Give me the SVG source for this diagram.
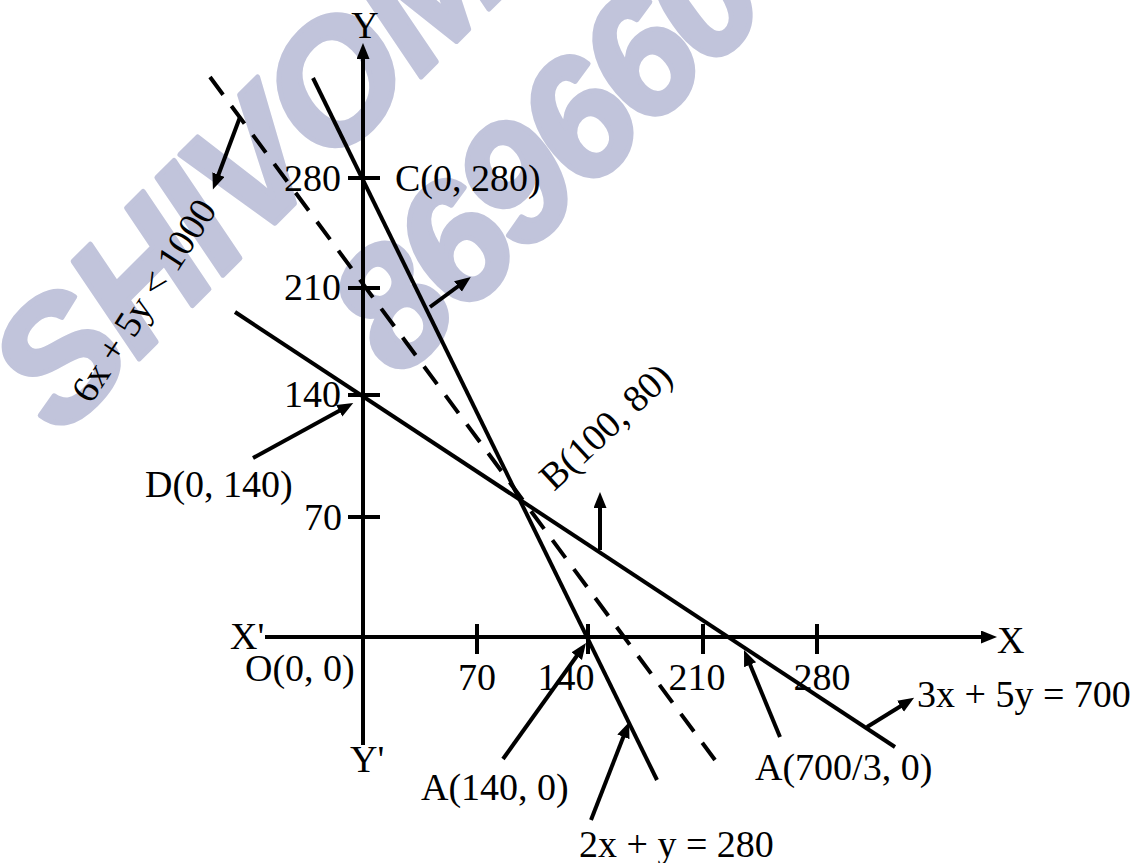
<svg xmlns="http://www.w3.org/2000/svg" width="1139" height="863" viewBox="0 0 1139 863">
  <style>
    .wm { font-family: "Liberation Sans", Arial, sans-serif; font-weight: bold; font-style: italic; font-size: 168px; fill: #c1c4db; stroke: #c1c4db; stroke-width: 5; stroke-linejoin: round; }
    .t { font-family: "Liberation Serif", "Times New Roman", serif; font-size: 38px; fill: #000; }
    .ln { stroke: #000; stroke-width: 4; fill: none; stroke-linecap: butt; }
    .dash { stroke-dasharray: 22 14; }
    .ar { stroke: #000; stroke-width: 4; fill: none; marker-end: url(#ah); }
  </style>
  <defs>
    <marker id="ah" markerUnits="userSpaceOnUse" markerWidth="18" markerHeight="14" refX="10" refY="6.5" orient="auto">
      <path d="M0,0 L16,6.5 L0,13 Z" fill="#000"/>
    </marker>
  </defs>
  <rect width="1139" height="863" fill="#fff"/>

  <g id="watermark">
    <text class="wm" letter-spacing="-3" transform="translate(60,438) rotate(-45)">SHIVOM</text>
    <text class="wm" letter-spacing="-6" transform="translate(400,380) rotate(-45)">869660</text>
  </g>

  <g id="axes">
    <line class="ln" x1="363" y1="745" x2="363" y2="49" marker-end="url(#ah)"/>
    <line class="ln" x1="265" y1="637" x2="991" y2="637" marker-end="url(#ah)"/>
    <g id="yticks">
      <line class="ln" x1="348" y1="178" x2="380" y2="178"/>
      <line class="ln" x1="348" y1="288" x2="380" y2="288"/>
      <line class="ln" x1="348" y1="395" x2="380" y2="395"/>
      <line class="ln" x1="348" y1="517" x2="380" y2="517"/>
    </g>
    <g id="xticks">
      <line class="ln" x1="477" y1="624" x2="477" y2="654"/>
      <line class="ln" x1="588" y1="624" x2="588" y2="654"/>
      <line class="ln" x1="703" y1="624" x2="703" y2="654"/>
      <line class="ln" x1="817" y1="624" x2="817" y2="654"/>
    </g>
  </g>

  <g id="connectors">
    <line id="line-2x-y" class="ln" x1="313" y1="78" x2="657" y2="780"/>
    <line id="line-3x-5y" class="ln" x1="235" y1="312" x2="895" y2="747"/>
    <line id="line-6x-5y" class="ln dash" x1="210" y1="77" x2="715" y2="760"/>
    <line class="ar" x1="240" y1="117" x2="215" y2="184"/>
    <line class="ar" x1="430" y1="307" x2="466" y2="280.5"/>
    <line class="ar" x1="253" y1="458" x2="348" y2="406"/>
    <line class="ar" x1="600" y1="550" x2="600" y2="498"/>
    <line class="ar" x1="503" y1="759" x2="582.5" y2="648"/>
    <line class="ar" x1="591" y1="820" x2="627" y2="727.5"/>
    <line class="ar" x1="780" y1="737" x2="746.3" y2="655.5"/>
    <line class="ar" x1="867" y1="727" x2="909" y2="701"/>
  </g>

  <g id="labels">
    <text class="t" x="365" y="38" text-anchor="middle">Y</text>
    <text class="t" x="350" y="772">Y'</text>
    <text class="t" x="230" y="649">X'</text>
    <text class="t" x="997" y="653">X</text>
    <text class="t" x="341" y="191" text-anchor="end">280</text>
    <text class="t" x="341" y="300" text-anchor="end">210</text>
    <text class="t" x="341" y="407" text-anchor="end">140</text>
    <text class="t" x="342" y="530" text-anchor="end">70</text>
    <text class="t" x="477" y="690" text-anchor="middle">70</text>
    <text class="t" x="566" y="690" text-anchor="middle">140</text>
    <text class="t" x="697" y="690" text-anchor="middle">210</text>
    <text class="t" x="822" y="690" text-anchor="middle">280</text>
    <text class="t" x="245" y="681">O(0, 0)</text>
    <text class="t" x="395" y="191">C(0, 280)</text>
    <text class="t" x="145" y="497">D(0, 140)</text>
    <text class="t" x="421" y="800">A(140, 0)</text>
    <text class="t" x="755" y="780">A(700/3, 0)</text>
    <text class="t" x="579" y="857">2x + y = 280</text>
    <text class="t" x="917" y="707">3x + 5y = 700</text>
    <text class="t" transform="translate(554,492) rotate(-43)">B(100, 80)</text>
    <text class="t" transform="translate(91,405) rotate(-57)">6x + 5y &lt; 1000</text>
  </g>
</svg>
